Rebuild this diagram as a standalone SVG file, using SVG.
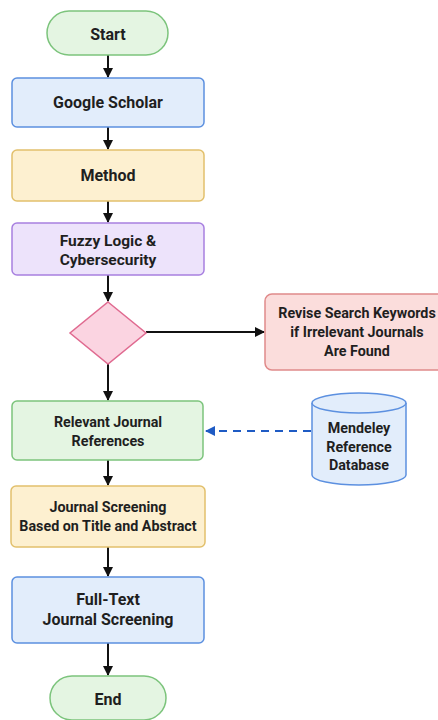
<svg xmlns="http://www.w3.org/2000/svg" width="438" height="720" viewBox="0 0 438 720">
<defs>
<style>
.t{font-family:Roboto,"Liberation Sans",sans-serif;font-weight:bold;font-size:14.3px;fill:#1f1f1f;text-anchor:middle}
.L{font-size:16px}
.M{font-size:15.5px}
.ln{stroke:#111;stroke-width:2;fill:none}
.green{fill:#e4f5e2;stroke:#7cc47c;stroke-width:1.5}
.blue{fill:#e2edfb;stroke:#5c90e0;stroke-width:1.5}
.yellow{fill:#fdf0d0;stroke:#e2c06c;stroke-width:1.5}
.purple{fill:#ede3fb;stroke:#a880e0;stroke-width:1.5}
.pink{fill:#fbd4e1;stroke:#e06a90;stroke-width:1.5}
.red{fill:#fbdddc;stroke:#e08a8a;stroke-width:1.5}
</style>
<marker id="ah" viewBox="0 0 10 10" refX="9" refY="5" markerWidth="5" markerHeight="5" orient="auto" markerUnits="strokeWidth"><path d="M0,0 L10,5 L0,10 z" fill="#111"/></marker>
<marker id="ahb" viewBox="0 0 10 10" refX="9" refY="5" markerWidth="5" markerHeight="5" orient="auto" markerUnits="strokeWidth"><path d="M0,0 L10,5 L0,10 z" fill="#1f5bc4"/></marker>
</defs>
<rect width="438" height="720" fill="#ffffff"/>
<g id="connectors">
<line class="ln" x1="108" y1="55" x2="108" y2="77" marker-end="url(#ah)"/>
<line class="ln" x1="108" y1="127" x2="108" y2="149" marker-end="url(#ah)"/>
<line class="ln" x1="108" y1="201" x2="108" y2="222" marker-end="url(#ah)"/>
<line class="ln" x1="108" y1="275" x2="108" y2="301" marker-end="url(#ah)"/>
<line class="ln" x1="146" y1="332" x2="264" y2="332" marker-end="url(#ah)"/>
<line class="ln" x1="108" y1="364" x2="108" y2="400" marker-end="url(#ah)"/>
<line x1="311" y1="431" x2="206" y2="431" stroke="#1f5bc4" stroke-width="2" stroke-dasharray="8,6" marker-end="url(#ahb)"/>
<line class="ln" x1="108" y1="460" x2="108" y2="485" marker-end="url(#ah)"/>
<line class="ln" x1="108" y1="547" x2="108" y2="576" marker-end="url(#ah)"/>
<line class="ln" x1="108" y1="643" x2="108" y2="675" marker-end="url(#ah)"/>
</g>
<g id="start"><rect class="green" x="47" y="11" width="121" height="44" rx="22"/><text class="t L" x="108" y="39.5">Start</text></g>
<g id="google"><rect class="blue" x="12" y="78" width="192" height="49" rx="5"/><text class="t L" x="108" y="107.5">Google Scholar</text></g>
<g id="method"><rect class="yellow" x="12" y="150" width="192" height="51" rx="5"/><text class="t L" x="108" y="181">Method</text></g>
<g id="fuzzy"><rect class="purple" x="12" y="223" width="192" height="52" rx="5"/><text class="t M" x="108" y="246">Fuzzy Logic &amp;</text><text class="t M" x="108" y="265">Cybersecurity</text></g>
<g id="decision"><polygon class="pink" points="108,302 146,333 108,364 70,333"/></g>
<g id="revise"><rect class="red" x="265" y="294" width="180" height="76" rx="7"/><text class="t" x="357" y="318">Revise Search Keywords</text><text class="t" x="357" y="337">if Irrelevant Journals</text><text class="t" x="357" y="356">Are Found</text></g>
<g id="relevant"><rect class="green" x="12" y="401" width="191" height="59" rx="5"/><text class="t" x="108" y="427">Relevant Journal</text><text class="t" x="108" y="446">References</text></g>
<g id="mendeley"><path class="blue" d="M312,403 L312,475 A47,10 0 0 0 406,475 L406,403"/><ellipse class="blue" cx="359" cy="403" rx="47" ry="10"/><text class="t" x="359" y="433">Mendeley</text><text class="t" x="359" y="452">Reference</text><text class="t" x="359" y="470">Database</text></g>
<g id="screening"><rect class="yellow" x="11" y="486" width="194" height="61" rx="5"/><text class="t" x="108" y="512">Journal Screening</text><text class="t" x="108" y="531">Based on Title and Abstract</text></g>
<g id="fulltext"><rect class="blue" x="12" y="577" width="192" height="66" rx="5"/><text class="t L" x="108" y="605">Full-Text</text><text class="t L" x="108" y="625">Journal Screening</text></g>
<g id="end"><rect class="green" x="50" y="676" width="116" height="44" rx="22"/><text class="t L" x="108" y="705">End</text></g>
</svg>
